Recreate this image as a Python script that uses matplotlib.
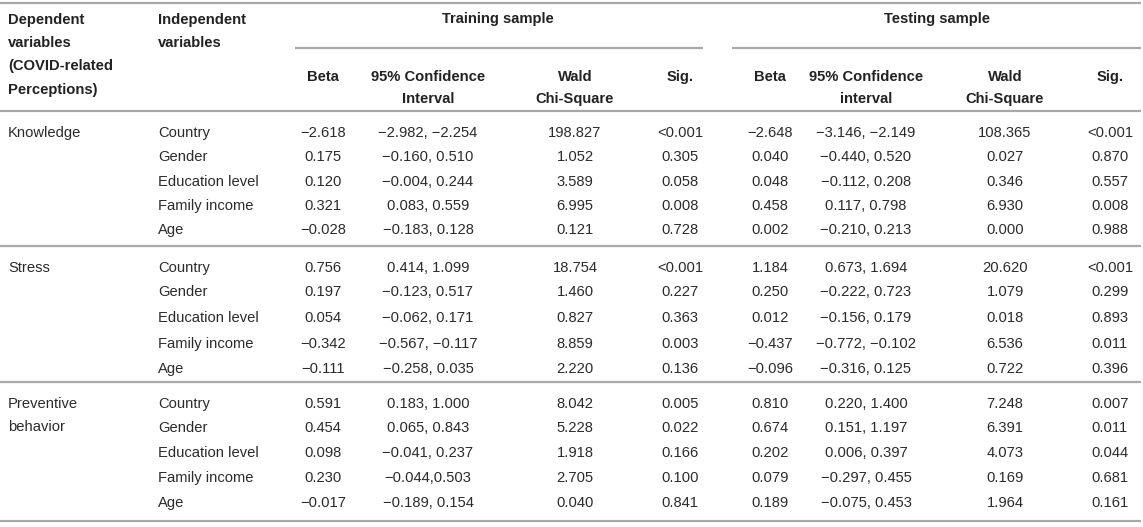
import matplotlib
matplotlib.use("Agg")
import matplotlib.pyplot as plt

dependent = ["Knowledge", "Stress", "Preventive\nbehavior"]
independent = ["Country", "Gender", "Education level", "Family income", "Age"]

train_beta = [["\u22122.618", "0.175", "0.120", "0.321", "\u22120.028"],
              ["0.756", "0.197", "0.054", "\u22120.342", "\u22120.111"],
              ["0.591", "0.454", "0.098", "0.230", "\u22120.017"]]
train_ci = [["\u22122.982, \u22122.254", "\u22120.160, 0.510", "\u22120.004, 0.244", "0.083, 0.559", "\u22120.183, 0.128"],
            ["0.414, 1.099", "\u22120.123, 0.517", "\u22120.062, 0.171", "\u22120.567, \u22120.117", "\u22120.258, 0.035"],
            ["0.183, 1.000", "0.065, 0.843", "\u22120.041, 0.237", "\u22120.044,0.503", "\u22120.189, 0.154"]]
train_wald = [["198.827", "1.052", "3.589", "6.995", "0.121"],
              ["18.754", "1.460", "0.827", "8.859", "2.220"],
              ["8.042", "5.228", "1.918", "2.705", "0.040"]]
train_sig = [["<0.001", "0.305", "0.058", "0.008", "0.728"],
             ["<0.001", "0.227", "0.363", "0.003", "0.136"],
             ["0.005", "0.022", "0.166", "0.100", "0.841"]]

test_beta = [["\u22122.648", "0.040", "0.048", "0.458", "0.002"],
             ["1.184", "0.250", "0.012", "\u22120.437", "\u22120.096"],
             ["0.810", "0.674", "0.202", "0.079", "0.189"]]
test_ci = [["\u22123.146, \u22122.149", "\u22120.440, 0.520", "\u22120.112, 0.208", "0.117, 0.798", "\u22120.210, 0.213"],
           ["0.673, 1.694", "\u22120.222, 0.723", "\u22120.156, 0.179", "\u22120.772, \u22120.102", "\u22120.316, 0.125"],
           ["0.220, 1.400", "0.151, 1.197", "0.006, 0.397", "\u22120.297, 0.455", "\u22120.075, 0.453"]]
test_wald = [["108.365", "0.027", "0.346", "6.930", "0.000"],
             ["20.620", "1.079", "0.018", "6.536", "0.722"],
             ["7.248", "6.391", "4.073", "0.169", "1.964"]]
test_sig = [["<0.001", "0.870", "0.557", "0.008", "0.988"],
            ["<0.001", "0.299", "0.893", "0.011", "0.396"],
            ["0.007", "0.011", "0.044", "0.681", "0.161"]]

plt.rcParams['font.family'] = ['Liberation Sans', 'DejaVu Sans']

W, H = 1143, 527
fig = plt.figure(figsize=(W / 100, H / 100), dpi=100)
ax = fig.add_axes([0, 0, 1, 1])
ax.set_xlim(0, W)
ax.set_ylim(H, 0)
ax.axis('off')

line_col = '#a8a8a8'
txt_col = '#2b2b2b'
hdr_col = '#222222'
fs = 10.6

def hline(x0, x1, y, lw=1.6):
    ax.plot([x0, x1], [y, y], color=line_col, lw=lw, solid_capstyle='butt')

# rules
hline(0, 1141, 3)
hline(295, 703, 48)
hline(732, 1141, 48)
hline(0, 1141, 111)
hline(0, 1141, 246)
hline(0, 1141, 382)
hline(0, 1141, 521)

# header
hdr = dict(fontsize=fs, fontweight='bold', color=hdr_col)
ax.text(8, 13, "Dependent\nvariables\n(COVID-related\nPerceptions)", ha='left', va='top',
        linespacing=1.84, **hdr)
ax.text(158, 13, "Independent\nvariables", ha='left', va='top', linespacing=1.84, **hdr)
ax.text(498, 19, "Training sample", ha='center', va='center', **hdr)
ax.text(937, 19, "Testing sample", ha='center', va='center', **hdr)

cols_train = [323, 428, 575, 680]
cols_test = [770, 866, 1005, 1110]
sub_train = ["Beta", "95% Confidence\nInterval", "Wald\nChi-Square", "Sig."]
sub_test = ["Beta", "95% Confidence\ninterval", "Wald\nChi-Square", "Sig."]
for x, s in zip(cols_train, sub_train):
    ax.text(x, 70, s, ha='center', va='top', linespacing=1.72, **hdr)
for x, s in zip(cols_test, sub_test):
    ax.text(x, 70, s, ha='center', va='top', linespacing=1.72, **hdr)

# body
group_rows = [[133, 157, 182, 206, 230],
              [268, 292, 318, 344, 369],
              [404, 428, 453, 478, 503]]
body = dict(fontsize=fs, color=txt_col)
for g in range(3):
    ys = group_rows[g]
    ax.text(8, ys[0] - 7, dependent[g], ha='left', va='top', linespacing=1.84, **body)
    for r in range(5):
        y = ys[r]
        ax.text(158, y, independent[r], ha='left', va='center', **body)
        vals = [train_beta[g][r], train_ci[g][r], train_wald[g][r], train_sig[g][r],
                test_beta[g][r], test_ci[g][r], test_wald[g][r], test_sig[g][r]]
        for x, v in zip(cols_train + cols_test, vals):
            ax.text(x, y, v, ha='center', va='center', **body)

fig.savefig("out.png", dpi=100, facecolor='white')
